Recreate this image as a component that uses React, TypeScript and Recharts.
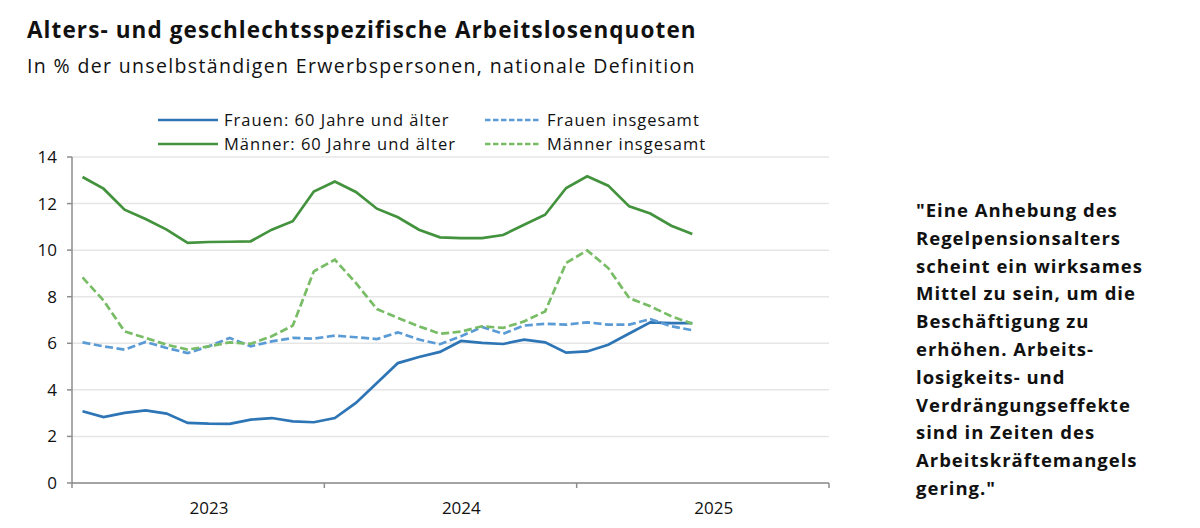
import React from "react";
import { LineChart, Line, XAxis, YAxis, CartesianGrid } from "recharts";

const months = [
  "2023-01", "2023-02", "2023-03", "2023-04", "2023-05", "2023-06",
  "2023-07", "2023-08", "2023-09", "2023-10", "2023-11", "2023-12",
  "2024-01", "2024-02", "2024-03", "2024-04", "2024-05", "2024-06",
  "2024-07", "2024-08", "2024-09", "2024-10", "2024-11", "2024-12",
  "2025-01", "2025-02", "2025-03", "2025-04", "2025-05", "2025-06",
];

const frauen60 = [
  3.08, 2.83, 3.01, 3.12, 2.98, 2.58, 2.55, 2.54, 2.72, 2.79, 2.65, 2.61,
  2.79, 3.44, 4.29, 5.15, 5.41, 5.63, 6.1, 6.02, 5.97, 6.16, 6.04, 5.6,
  5.65, 5.94, 6.42, 6.9, 6.87, 6.87,
];
const frauenGesamt = [
  6.04, 5.87, 5.73, 6.06, 5.8, 5.58, 5.87, 6.23, 5.87, 6.08, 6.23, 6.2,
  6.33, 6.26, 6.18, 6.47, 6.16, 5.96, 6.3, 6.7, 6.41, 6.76, 6.84, 6.8,
  6.9, 6.8, 6.8, 7.04, 6.73, 6.56,
];
const maenner60 = [
  13.14, 12.64, 11.74, 11.34, 10.88, 10.31, 10.35, 10.36, 10.38, 10.88, 11.24, 12.52,
  12.95, 12.5, 11.78, 11.41, 10.88, 10.55, 10.52, 10.52, 10.65, 11.09, 11.52, 12.67,
  13.17, 12.77, 11.88, 11.57, 11.05, 10.69,
];
const maennerGesamt = [
  8.83, 7.84, 6.51, 6.23, 5.94, 5.73, 5.87, 6.04, 5.98, 6.3, 6.76, 9.09,
  9.59, 8.59, 7.47, 7.09, 6.73, 6.41, 6.5, 6.73, 6.66, 6.94, 7.37, 9.45,
  9.99, 9.23, 7.94, 7.59, 7.16, 6.84,
];

const yearTicks = [0, 12, 24, 36];
const yearLabels = ["2023", "2024", "2025"];
const yTicks = [0, 2, 4, 6, 8, 10, 12, 14];

const series = [
  { key: "frauen60", name: "Frauen: 60 Jahre und älter", color: "#2E75B6", dashed: false },
  { key: "frauenGesamt", name: "Frauen insgesamt", color: "#5B9BD5", dashed: true },
  { key: "maenner60", name: "Männer: 60 Jahre und älter", color: "#43923D", dashed: false },
  { key: "maennerGesamt", name: "Männer insgesamt", color: "#78BC66", dashed: true },
];

const data = months.map((m, i) => ({
  month: m,
  x: i + 0.5,
  frauen60: frauen60[i],
  frauenGesamt: frauenGesamt[i],
  maenner60: maenner60[i],
  maennerGesamt: maennerGesamt[i],
}));

const FONT = "'Open Sans', sans-serif";

const quote = [
  "\"Eine Anhebung des",
  "Regelpensionsalters",
  "scheint ein wirksames",
  "Mittel zu sein, um die",
  "Beschäftigung zu",
  "erhöhen. Arbeits-",
  "losigkeits- und",
  "Verdrängungseffekte",
  "sind in Zeiten des",
  "Arbeitskräftemangels",
  "gering.\"",
];

const YearTick = (props: any) => {
  const { x, y, payload } = props;
  const idx = yearTicks.indexOf(payload.value);
  if (idx < 0 || idx >= yearLabels.length) return null;
  return (
    <text x={x + 137} y={y + 24} textAnchor="middle" fontSize={17} fill="#111" fontFamily={FONT}>
      {yearLabels[idx]}
    </text>
  );
};

const LegendItem = ({ s, x, y, w }: { s: (typeof series)[number]; x: number; y: number; w: number }) => (
  <div style={{ position: "absolute", left: x, top: y, display: "flex", alignItems: "center", whiteSpace: "nowrap" }}>
    <svg width={w} height={6} style={{ marginRight: 6 }}>
      <line x1={0} y1={3} x2={w} y2={3} stroke={s.color} strokeWidth={2.5} strokeDasharray={s.dashed ? "5.5 2.5" : undefined} />
    </svg>
    <span style={{ fontSize: 16.5, fontFamily: FONT, color: "#111", letterSpacing: 1 }}>{s.name}</span>
  </div>
);

export default function App() {
  return (
    <div style={{ position: "relative", width: 1200, height: 528, margin: -8, background: "#fff", overflow: "hidden" }}>
      <div style={{ position: "absolute", left: 27, top: 14, fontSize: 22.5, fontWeight: 700, fontFamily: FONT, color: "#111", whiteSpace: "nowrap", letterSpacing: 1.1 }}>
        Alters- und geschlechtsspezifische Arbeitslosenquoten
      </div>
      <div style={{ position: "absolute", left: 27, top: 52, fontSize: 19.5, fontFamily: FONT, color: "#111", whiteSpace: "nowrap", letterSpacing: 1.35 }}>
        In % der unselbständigen Erwerbspersonen, nationale Definition
      </div>

      <LegendItem s={series[0]} x={158} y={108} w={60} />
      <LegendItem s={series[1]} x={485} y={108} w={56} />
      <LegendItem s={series[2]} x={158} y={132} w={60} />
      <LegendItem s={series[3]} x={485} y={132} w={56} />

      <div style={{ position: "absolute", left: 0, top: 0 }}>
        <LineChart width={860} height={528} data={data} margin={{ top: 157, right: 31, bottom: 0, left: 12 }}>
          <CartesianGrid horizontal vertical={false} stroke="#E6E6E6" strokeWidth={1.5} />
          <XAxis
            dataKey="x"
            type="number"
            domain={[0, 36]}
            ticks={yearTicks}
            interval={0}
            tick={<YearTick />}
            tickSize={5}
            height={45}
            axisLine={{ stroke: "#8C8C8C", strokeWidth: 1.5 }}
            tickLine={{ stroke: "#8C8C8C", strokeWidth: 1.5 }}
          />
          <YAxis
            type="number"
            domain={[0, 14]}
            ticks={yTicks}
            interval={0}
            width={60}
            tickSize={5}
            tickMargin={10}
            tick={{ fontSize: 17, fill: "#111", fontFamily: FONT }}
            axisLine={{ stroke: "#8C8C8C", strokeWidth: 1.5 }}
            tickLine={{ stroke: "#8C8C8C", strokeWidth: 1.5 }}
          />
          {series.map((s) => (
            <Line
              key={s.key}
              dataKey={s.key}
              name={s.name}
              type="linear"
              stroke={s.color}
              strokeWidth={2.7}
              strokeDasharray={s.dashed ? "8 3.5" : undefined}
              dot={false}
              isAnimationActive={false}
            />
          ))}
        </LineChart>
      </div>

      <div style={{ position: "absolute", left: 916, top: 196, fontSize: 18.5, fontWeight: 700, fontFamily: FONT, color: "#111", lineHeight: "27.8px", whiteSpace: "nowrap", letterSpacing: 1 }}>
        {quote.map((l, i) => (
          <div key={i}>{l}</div>
        ))}
      </div>
    </div>
  );
}
